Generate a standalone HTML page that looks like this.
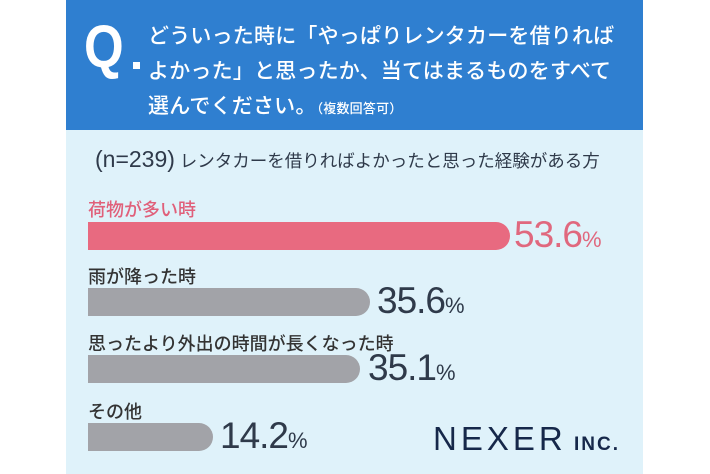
<!DOCTYPE html>
<html><head><meta charset="utf-8"><style>
body{margin:0;width:710px;height:474px;background:#fff;position:relative;overflow:hidden;font-family:"Liberation Sans","Noto Sans CJK JP",sans-serif;}
.a{position:absolute;white-space:nowrap;}
#hd{left:66px;top:0;width:577px;height:130px;background:#2f7fd0;}
#bd{left:66px;top:130px;width:577px;height:344px;background:#dff2fa;}
.q{color:#fff;font-size:21px;font-weight:500;letter-spacing:0.2px;}
.lab{font-size:18px;color:#333;font-weight:500;}
.bar{height:28px;border-radius:0 14px 14px 0;left:88px;}
.v{font-size:37px;color:#2f3a4a;letter-spacing:-1px;}
.v small{font-size:22px;}
</style></head><body>
<div class="a" id="hd"></div>
<div class="a" id="bd"></div>
<div class="a" style="left:84px;top:14px;color:#fff;font-size:60px;font-weight:bold;line-height:66px;transform:scaleX(0.85);transform-origin:left;">Q</div>
<div class="a" style="left:133px;top:62px;width:7px;height:7px;background:#fff;"></div>
<div class="a q" style="left:148px;top:20px;">どういった時に「やっぱりレンタカーを借りれば</div>
<div class="a q" style="left:148px;top:55px;">よかった」と思ったか、当てはまるものをすべて</div>
<div class="a q" style="left:148px;top:90px;">選んでください。<span style="font-size:13px;">（複数回答可）</span></div>
<div class="a" style="left:95px;top:146px;font-size:23px;color:#2f3a4a;">(n=239)<span style="font-size:17.5px;"> レンタカーを借りればよかったと思った経験がある方</span></div>
<div class="a lab" style="left:88px;top:196px;color:#e0607a;">荷物が多い時</div>
<div class="a bar" style="top:222px;width:422px;background:#e86a80;"></div>
<div class="a v" style="left:514px;top:214px;color:#e0687e;">53.6<small>%</small></div>
<div class="a lab" style="left:88px;top:263px;">雨が降った時</div>
<div class="a bar" style="top:288px;width:282px;background:#a2a3a8;"></div>
<div class="a v" style="left:377px;top:280px;">35.6<small>%</small></div>
<div class="a lab" style="left:88px;top:330px;">思ったより外出の時間が長くなった時</div>
<div class="a bar" style="top:355px;width:272px;background:#a2a3a8;"></div>
<div class="a v" style="left:368px;top:347px;">35.1<small>%</small></div>
<div class="a lab" style="left:88px;top:398px;">その他</div>
<div class="a bar" style="top:423px;width:125px;background:#a2a3a8;"></div>
<div class="a v" style="left:220px;top:415px;">14.2<small>%</small></div>
<div class="a" style="left:433px;top:420px;font-size:33px;color:#16284a;letter-spacing:4px;">NEXER<span style="font-size:19px;font-weight:bold;letter-spacing:2px;"> INC.</span></div>
</body></html>
